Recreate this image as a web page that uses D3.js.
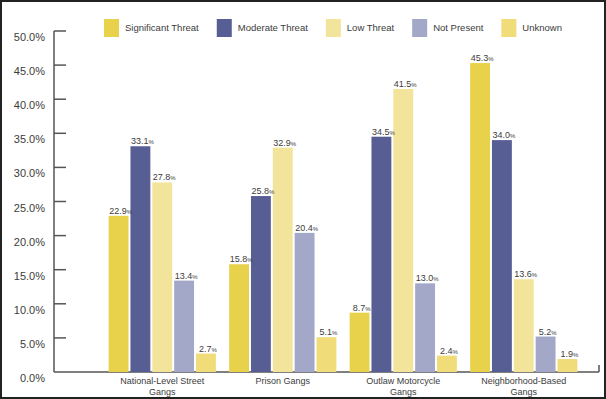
<!DOCTYPE html>
<html>
<head>
<meta charset="utf-8">
<script src="https://cdn.jsdelivr.net/npm/d3@7"></script>
<style>
  html, body { margin: 0; padding: 0; background: #fff; }
  svg { display: block; font-family: "Liberation Sans", Arial, Helvetica, sans-serif; }
</style>
</head>
<body>
<div id="chart"></div>
<script>
const categories = [
  ['National-Level Street', 'Gangs'],
  ['Prison Gangs'],
  ['Outlaw Motorcycle', 'Gangs'],
  ['Neighborhood-Based', 'Gangs']
];
const series = ['Significant Threat', 'Moderate Threat', 'Low Threat', 'Not Present', 'Unknown'];
const significant = [22.9, 15.8, 8.7, 45.3];
const moderate = [33.1, 25.8, 34.5, 34.0];
const low = [27.8, 32.9, 41.5, 13.6];
const notPresent = [13.4, 20.4, 13.0, 5.2];
const unknown = [2.7, 5.1, 2.4, 1.9];
const yTicks = [0, 5, 10, 15, 20, 25, 30, 35, 40, 45, 50];
const colors = ['#e8d24c', '#565e94', '#f3e49c', '#a3a8c8', '#f1dc7a'];

const values = [significant, moderate, low, notPresent, unknown];
const data = categories.map((c, i) => ({
  key: i,
  label: c,
  vals: series.map((s, j) => ({ series: s, idx: j, value: values[j][i] }))
}));

const width = 606, height = 399;
const plotLeft = 54, plotRight = 599, plotTop = 31, plotBottom = 372;
const textColor = '#3c3c3c';

const svg = d3.select('#chart').append('svg')
  .attr('width', width)
  .attr('height', height);

svg.append('rect')
  .attr('x', 1).attr('y', 1)
  .attr('width', width - 2).attr('height', height - 2)
  .attr('fill', '#fff')
  .attr('stroke', '#222')
  .attr('stroke-width', 2);

const x0 = d3.scaleBand()
  .domain(data.map(d => d.key))
  .range([102, 584])
  .paddingInner(0.11)
  .paddingOuter(0.055);

const x1 = d3.scaleBand()
  .domain(series)
  .range([0, x0.bandwidth()])
  .paddingInner(0.09);

const y = d3.scaleLinear().domain([0, 50]).range([plotBottom, plotTop]);

// y axis: ticks drawn inward
const yAxis = svg.append('g').attr('transform', `translate(${plotLeft},0)`);
yAxis.append('line')
  .attr('x1', 0).attr('x2', 0)
  .attr('y1', y(50)).attr('y2', plotBottom)
  .attr('stroke', '#555').attr('stroke-width', 1.5);
yAxis.selectAll('line.tick')
  .data(yTicks.filter(t => t > 0))
  .enter().append('line')
  .attr('class', 'tick')
  .attr('x1', 0).attr('x2', 12)
  .attr('y1', d => y(d)).attr('y2', d => y(d))
  .attr('stroke', '#555').attr('stroke-width', 1.5);
yAxis.selectAll('text')
  .data(yTicks)
  .enter().append('text')
  .attr('x', -9)
  .attr('y', d => y(d) + 10)
  .attr('text-anchor', 'end')
  .attr('font-size', 11)
  .attr('fill', textColor)
  .text(d => d.toFixed(1) + '%');

// x axis
svg.append('line')
  .attr('x1', plotLeft).attr('x2', plotRight)
  .attr('y1', plotBottom).attr('y2', plotBottom)
  .attr('stroke', '#555').attr('stroke-width', 1.5);
svg.append('line')
  .attr('x1', plotRight).attr('x2', plotRight)
  .attr('y1', plotBottom - 7).attr('y2', plotBottom)
  .attr('stroke', '#555').attr('stroke-width', 1.5);

const groups = svg.selectAll('g.group')
  .data(data)
  .enter().append('g')
  .attr('class', 'group')
  .attr('transform', d => `translate(${x0(d.key)},0)`);

groups.selectAll('rect')
  .data(d => d.vals)
  .enter().append('rect')
  .attr('x', d => x1(d.series))
  .attr('y', d => y(d.value))
  .attr('width', x1.bandwidth())
  .attr('height', d => plotBottom - y(d.value))
  .attr('fill', d => colors[d.idx]);

const vl = groups.selectAll('text.val')
  .data(d => d.vals)
  .enter().append('text')
  .attr('class', 'val')
  .attr('x', d => x1(d.series) + x1.bandwidth() / 2 + 2)
  .attr('y', d => y(d.value) - 2)
  .attr('text-anchor', 'middle')
  .attr('font-size', 9)
  .attr('fill', textColor);
vl.append('tspan').text(d => d.value.toFixed(1));
vl.append('tspan').attr('font-size', 6).text('%');

groups.append('text')
  .attr('x', x0.bandwidth() / 2)
  .attr('y', 384)
  .attr('text-anchor', 'middle')
  .attr('font-size', 9)
  .attr('fill', textColor)
  .selectAll('tspan')
  .data(d => d.label)
  .enter().append('tspan')
  .attr('x', x0.bandwidth() / 2)
  .attr('dy', (d, i) => i === 0 ? 0 : 10.5)
  .text(d => d);

// legend
const legend = svg.append('g').attr('transform', 'translate(104,19)');
let lx = 0;
series.forEach((s, i) => {
  const g = legend.append('g').attr('transform', `translate(${lx},0)`);
  g.append('rect')
    .attr('width', 15).attr('height', 18)
    .attr('fill', colors[i]);
  const t = g.append('text')
    .attr('x', 21).attr('y', 12)
    .attr('font-size', 9.5)
    .attr('fill', textColor)
    .text(s);
  lx += 21 + t.node().getComputedTextLength() + 18;
});
</script>
</body>
</html>
